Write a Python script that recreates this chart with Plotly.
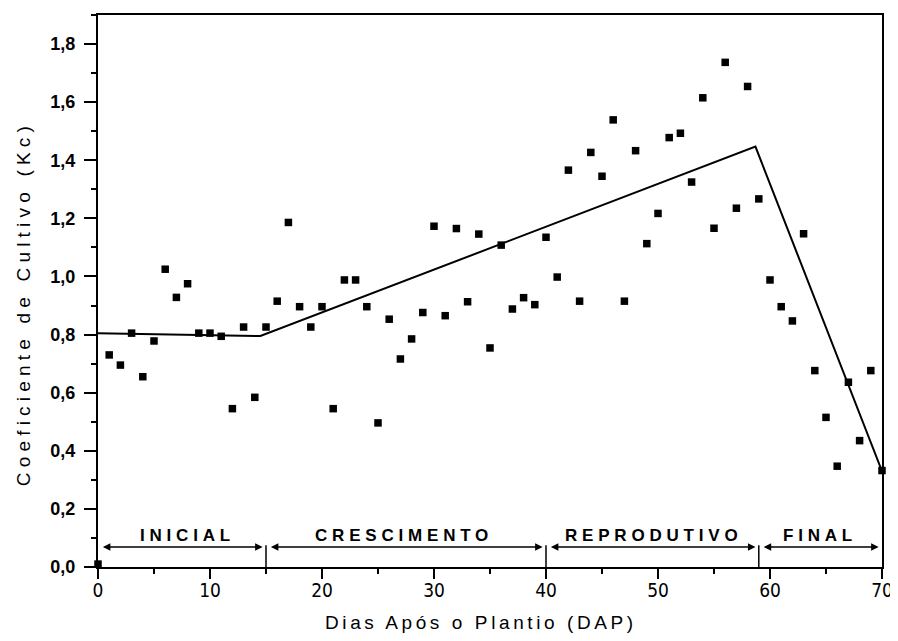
import plotly.graph_objects as go

# ---- data ----
days = list(range(71))
kc = [0.01, 0.73, 0.695, 0.805, 0.655, 0.778, 1.025, 0.928, 0.975, 0.805,
      0.805, 0.794, 0.545, 0.826, 0.584, 0.826, 0.915, 1.186, 0.896, 0.826,
      0.896, 0.545, 0.988, 0.988, 0.896, 0.496, 0.853, 0.716, 0.785, 0.876,
      1.173, 0.865, 1.165, 0.913, 1.146, 0.754, 1.108, 0.888, 0.927, 0.903,
      1.135, 0.998, 1.366, 0.915, 1.427, 1.345, 1.539, 0.915, 1.433, 1.113,
      1.217, 1.478, 1.493, 1.325, 1.615, 1.166, 1.737, 1.235, 1.654, 1.267,
      0.988, 0.896, 0.847, 1.147, 0.676, 0.515, 0.347, 0.636, 0.435, 0.676,
      0.332]

fit_x = [0, 14.5, 58.7, 70]
fit_y = [0.805, 0.795, 1.447, 0.33]

phase_names = ["INICIAL", "CRESCIMENTO", "REPRODUTIVO", "FINAL"]
phase_start = [0, 15, 40, 59]
phase_end = [15, 40, 59, 70]
phase_label_x = [8.0, 27.3, 49.6, 64.5]
dividers = [15, 40, 59]

arrow_y = 0.069
label_y = 0.109
divider_top = 0.075

x_ticks = [0, 10, 20, 30, 40, 50, 60, 70]
y_ticks = [0.0, 0.2, 0.4, 0.6, 0.8, 1.0, 1.2, 1.4, 1.6, 1.8]

fig = go.Figure()

fig.add_trace(go.Scatter(
    x=fit_x, y=fit_y, mode="lines",
    line=dict(color="black", width=2), showlegend=False, hoverinfo="skip"))

fig.add_trace(go.Scatter(
    x=days, y=kc, mode="markers",
    marker=dict(symbol="square", size=7.5, color="black"),
    showlegend=False, cliponaxis=False))

# divider lines
for d in dividers:
    fig.add_shape(type="line", xref="x", yref="y", x0=d, x1=d, y0=0, y1=divider_top,
                  line=dict(color="black", width=1.5))

# double arrows and phase labels
inset = 0.3
for name, s, e, lx in zip(phase_names, phase_start, phase_end, phase_label_x):
    fig.add_annotation(
        x=e - inset, y=arrow_y, ax=s + inset, ay=arrow_y,
        xref="x", yref="y", axref="x", ayref="y",
        text="", showarrow=True, arrowhead=2, startarrowhead=2,
        arrowside="end+start", arrowsize=1, startarrowsize=1,
        arrowwidth=1.5, arrowcolor="black")
    fig.add_annotation(
        x=lx, y=label_y, xref="x", yref="y", showarrow=False,
        text='<span style="letter-spacing:4.8px">%s</span>' % name,
        font=dict(family="Liberation Sans, Arial", size=17, color="black", weight="bold"),
        xanchor="center", yanchor="middle")

# axis titles as annotations
fig.add_annotation(
    x=0.4885, y=0, xref="paper", yref="paper", yshift=-55,
    text='<span style="letter-spacing:3.6px">Dias Após o Plantio (DAP)</span>',
    showarrow=False, xanchor="center", yanchor="middle",
    font=dict(family="Liberation Sans, Arial", size=19, color="black"))
fig.add_annotation(
    x=0, y=0.476, xref="paper", yref="paper", xshift=-75,
    text='<span style="letter-spacing:5.2px">Coeficiente de Cultivo (Kc)</span>',
    showarrow=False, textangle=-90, xanchor="center", yanchor="middle",
    font=dict(family="Liberation Sans, Arial", size=19, color="black"))

axis_common = dict(showline=True, linecolor="black", linewidth=2, mirror=True,
                   showgrid=False, zeroline=False, ticks="outside",
                   tickcolor="black", tickwidth=1.5)

fig.update_xaxes(range=[0, 70], tickvals=x_ticks, ticklen=10, ticklabelstandoff=-5,
                 minor=dict(dtick=5, ticks="outside", ticklen=5, tickcolor="black", tickwidth=1.5),
                 tickfont=dict(family="Liberation Sans Narrow, DejaVu Sans Condensed, Arial Narrow",
                               size=19, color="black"),
                 **axis_common)
fig.update_yaxes(range=[0, 1.9], tickvals=y_ticks, tickformat=".1f", ticklen=12,
                 ticklabelstandoff=5,
                 minor=dict(dtick=0.1, ticks="outside", ticklen=5, tickcolor="black", tickwidth=1.5),
                 tickfont=dict(family="Liberation Sans, Arial", size=18, color="black", weight="bold"),
                 **axis_common)

# page body has an 8px default margin: size the figure so the plot lands where the reference has it
fig.update_layout(
    width=890, height=633,
    margin=dict(l=90, r=14, t=5, b=74),
    plot_bgcolor="white", paper_bgcolor="white",
    separators=",.",
    showlegend=False)

fig.write_html("out.html")
